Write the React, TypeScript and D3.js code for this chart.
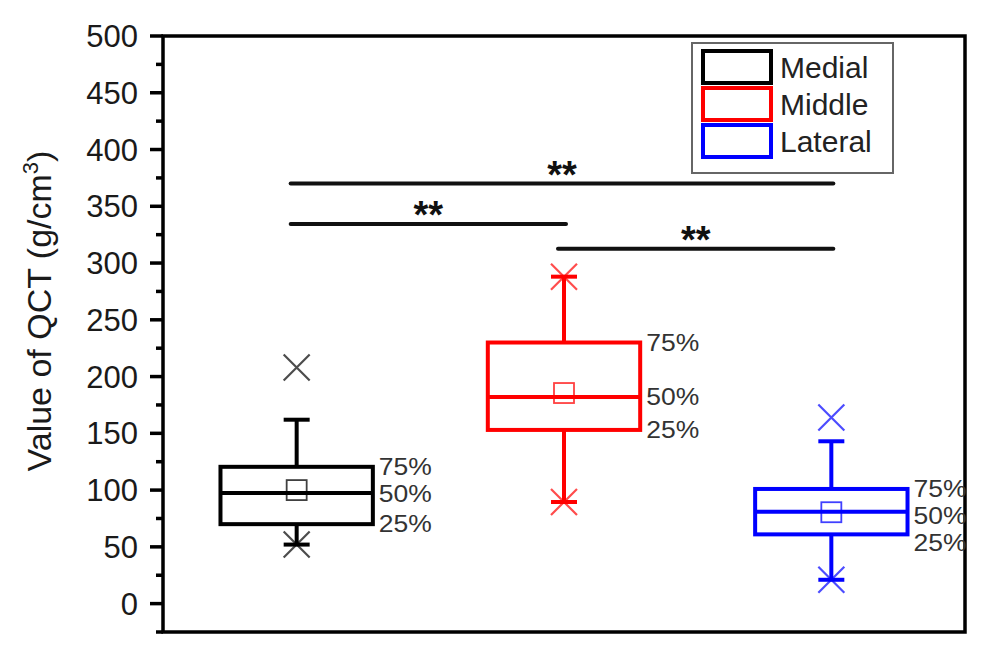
import { useEffect, useRef } from 'react'
import * as d3 from 'd3'

// Box statistics (g/cm3)
const CATEGORIES = ['Medial', 'Middle', 'Lateral']
const COLORS = ['#000000', '#ff0000', '#0000ff']
const Q1 = [70, 153, 61]
const MEDIAN = [97.5, 182, 81]
const Q3 = [120.5, 230, 101]
const MEAN = [100, 185.5, 80.5]
const WHISKER_LOW = [52, 89.5, 21]
const WHISKER_HIGH = [162, 288, 143]
const MIN_MARK = [52, 89.5, 21]
const MAX_MARK = [208, 288, 164]
const PCT_LABELS = ['75%', '50%', '25%']

const Y_TICKS = d3.range(0, 501, 50)
const Y_MINOR = d3.range(25, 500, 50)

// Significance brackets: [from, to], height in data units
const SIG_PAIRS: [number, number][] = [[0, 2], [0, 1], [1, 2]]
const SIG_Y = [370, 334.5, 312.5]
const SIG_TEXT = ['**', '**', '**']

const W = 992
const H = 660
const FRAME = { left: 163, right: 965, top: 36, bottom: 632 }
const FONT = 'Liberation Sans, Arial, Helvetica, sans-serif'

export default function App() {
  const svgRef = useRef<SVGSVGElement>(null)

  useEffect(() => {
    if (!svgRef.current) return
    const svg = d3.select(svgRef.current)
    svg.selectAll('*').remove()

    const x = d3.scaleBand<string>().domain(CATEGORIES).range([FRAME.left, FRAME.right]).padding(0)
    const cx = (i: number) => x(CATEGORIES[i])! + x.bandwidth() / 2
    const y = d3.scaleLinear().domain([-25, 500]).range([FRAME.bottom, FRAME.top])
    const boxW = x.bandwidth() * 0.57
    const capW = 26
    const mk = 13
    const sw = 4

    // Frame
    svg.append('rect')
      .attr('x', FRAME.left).attr('y', FRAME.top)
      .attr('width', FRAME.right - FRAME.left).attr('height', FRAME.bottom - FRAME.top)
      .attr('fill', 'none').attr('stroke', '#000').attr('stroke-width', 3.5)
    svg.append('line')
      .attr('x1', FRAME.left - 7).attr('x2', FRAME.left)
      .attr('y1', FRAME.bottom).attr('y2', FRAME.bottom)
      .attr('stroke', '#000').attr('stroke-width', 3.5)

    // Y ticks
    const ax = svg.append('g')
    ax.selectAll('.major').data(Y_TICKS).join('line')
      .attr('x1', FRAME.left - 13).attr('x2', FRAME.left)
      .attr('y1', d => y(d)).attr('y2', d => y(d))
      .attr('stroke', '#000').attr('stroke-width', 3.5)
    ax.selectAll('.minor').data(Y_MINOR).join('line')
      .attr('x1', FRAME.left - 7).attr('x2', FRAME.left)
      .attr('y1', d => y(d)).attr('y2', d => y(d))
      .attr('stroke', '#000').attr('stroke-width', 3.5)
    ax.selectAll('text').data(Y_TICKS).join('text')
      .attr('x', FRAME.left - 25).attr('y', d => y(d)).attr('dy', '0.36em')
      .attr('text-anchor', 'end')
      .attr('font-family', FONT).attr('font-size', 31).attr('fill', '#1a1a1a')
      .text(d => d)

    // Y label
    const yl = svg.append('text')
      .attr('transform', `translate(51,311) rotate(-90)`)
      .attr('text-anchor', 'middle')
      .attr('font-family', FONT).attr('font-size', 34).attr('fill', '#1a1a1a')
    yl.append('tspan').text('Value of QCT (g/cm')
    yl.append('tspan').attr('font-size', 22).attr('dy', -13).text('3')
    yl.append('tspan').attr('dy', 13).text(')')

    // Boxes
    CATEGORIES.forEach((_, i) => {
      const g = svg.append('g')
      const c = cx(i)
      const col = COLORS[i]
      // whiskers
      g.append('line').attr('x1', c).attr('x2', c)
        .attr('y1', y(Q3[i])).attr('y2', y(WHISKER_HIGH[i]))
        .attr('stroke', col).attr('stroke-width', sw)
      g.append('line').attr('x1', c).attr('x2', c)
        .attr('y1', y(Q1[i])).attr('y2', y(WHISKER_LOW[i]))
        .attr('stroke', col).attr('stroke-width', sw)
      ;[WHISKER_HIGH[i], WHISKER_LOW[i]].forEach(v => {
        g.append('line').attr('x1', c - capW / 2).attr('x2', c + capW / 2)
          .attr('y1', y(v)).attr('y2', y(v))
          .attr('stroke', col).attr('stroke-width', sw)
      })
      // box
      g.append('rect')
        .attr('x', c - boxW / 2).attr('y', y(Q3[i]))
        .attr('width', boxW).attr('height', y(Q1[i]) - y(Q3[i]))
        .attr('fill', 'none').attr('stroke', col).attr('stroke-width', sw)
      g.append('line').attr('x1', c - boxW / 2).attr('x2', c + boxW / 2)
        .attr('y1', y(MEDIAN[i])).attr('y2', y(MEDIAN[i]))
        .attr('stroke', col).attr('stroke-width', sw)
      // mean
      g.append('rect')
        .attr('x', c - 10).attr('y', y(MEAN[i]) - 10).attr('width', 20).attr('height', 20)
        .attr('fill', 'none').attr('stroke', col).attr('stroke-width', 1.8).attr('opacity', 0.75)
      // min / max crosses
      ;[MAX_MARK[i], MIN_MARK[i]].forEach(v => {
        const yy = y(v)
        g.append('path')
          .attr('d', `M${c - mk},${yy - mk}L${c + mk},${yy + mk}M${c - mk},${yy + mk}L${c + mk},${yy - mk}`)
          .attr('stroke', col).attr('stroke-width', 2.2).attr('opacity', 0.7).attr('fill', 'none')
      })
      // percentile labels, nudged apart when crowded
      const ys = [y(Q3[i]), y(MEDIAN[i]), y(Q1[i])]
      for (let k = 1; k < ys.length; k++) ys[k] = Math.max(ys[k], ys[k - 1] + 27)
      g.selectAll('.pct').data(PCT_LABELS).join('text')
        .attr('x', c + boxW / 2 + 6).attr('y', (_, k) => ys[k]).attr('dy', '0.36em')
        .attr('font-family', FONT).attr('font-size', 23).attr('fill', '#333')
        .attr('textLength', 53).attr('lengthAdjust', 'spacingAndGlyphs')
        .text(d => d)
    })

    // Significance bars
    SIG_PAIRS.forEach(([a, b], k) => {
      const x1 = cx(a) - 6
      const x2 = cx(b) + 2
      svg.append('line').attr('x1', x1).attr('x2', x2)
        .attr('y1', y(SIG_Y[k])).attr('y2', y(SIG_Y[k]))
        .attr('stroke', '#111').attr('stroke-width', 4).attr('stroke-linecap', 'round')
      svg.append('text')
        .attr('x', (x1 + x2) / 2).attr('y', y(SIG_Y[k]) + 4)
        .attr('text-anchor', 'middle')
        .attr('font-family', FONT).attr('font-size', 38).attr('font-weight', 'bold').attr('fill', '#111')
        .text(SIG_TEXT[k])
    })

    // Legend
    const lg = svg.append('g').attr('transform', 'translate(692,43)')
    lg.append('rect').attr('width', 201).attr('height', 130)
      .attr('fill', '#fff').attr('stroke', '#666').attr('stroke-width', 2)
    CATEGORIES.forEach((name, i) => {
      const row = lg.append('g').attr('transform', `translate(0,${8 + i * 37})`)
      row.append('rect').attr('x', 11).attr('y', 0).attr('width', 68).attr('height', 32)
        .attr('fill', 'none').attr('stroke', COLORS[i]).attr('stroke-width', 4)
      row.append('text').attr('x', 88).attr('y', 16).attr('dy', '0.36em')
        .attr('font-family', FONT).attr('font-size', 30).attr('fill', '#222')
        .text(name)
    })
  }, [])

  return (
    <svg ref={svgRef} width={W} height={H}
      style={{ position: 'absolute', left: 0, top: 0, background: '#fff' }} />
  )
}
